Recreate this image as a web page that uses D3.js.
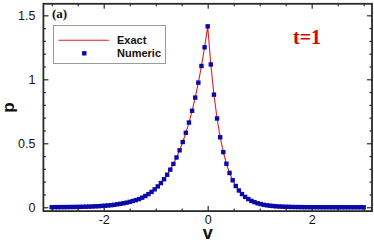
<!DOCTYPE html>
<html><head><meta charset="utf-8">
<script src="https://cdn.jsdelivr.net/npm/d3@7"></script>
<style>body{margin:0;background:#fff}svg{display:block}</style>
</head><body>
<svg id="c" width="374" height="240"></svg>
<script>
// grid of v values
const vValues = [-3.00,-2.94,-2.88,-2.82,-2.76,-2.70,-2.64,-2.58,-2.52,-2.46,-2.40,-2.34,-2.28,-2.22,-2.16,-2.10,-2.04,-1.98,-1.92,-1.86,-1.80,-1.74,-1.68,-1.62,-1.56,-1.50,-1.44,-1.38,-1.32,-1.26,-1.20,-1.14,-1.08,-1.02,-0.96,-0.90,-0.84,-0.78,-0.72,-0.66,-0.60,-0.54,-0.48,-0.42,-0.36,-0.30,-0.24,-0.18,-0.12,-0.06,0.00,
0.06,0.12,0.18,0.24,0.30,0.36,0.42,0.48,0.54,0.60,0.66,0.72,0.78,0.84,0.90,0.96,1.02,1.08,1.14,1.20,1.26,1.32,1.38,1.44,1.50,1.56,1.62,1.68,1.74,1.80,1.86,1.92,1.98,2.04,2.10,2.16,2.22,2.28,2.34,2.40,2.46,2.52,2.58,2.64,2.70,2.76,2.82,2.88,2.94,3.00];
// exact solution p(v)
const pExact = [0.0006,0.0008,0.0009,0.0011,0.0013,0.0015,0.0018,0.0022,0.0026,0.0031,0.0037,0.0044,0.0052,0.0061,0.0072,0.0085,0.010,0.012,0.014,0.016,0.019,0.023,0.027,0.031,0.036,0.042,0.049,0.056,0.064,0.075,0.088,0.103,0.120,0.140,0.163,0.189,0.219,0.254,0.294,0.339,0.389,0.445,0.510,0.582,0.662,0.754,0.857,0.974,1.104,1.250,1.414,
1.116,0.880,0.694,0.547,0.431,0.340,0.268,0.211,0.166,0.131,0.103,0.081,0.064,0.050,0.040,0.031,0.025,0.019,0.015,0.012,0.0095,0.0075,0.0059,0.0047,0.0037,0.0029,0.0023,0.0018,0.0014,0.0011,0.0009,0.0007,0.0006,0.0005,0.0004,0.0003,0.0002,0.0002,0.0002,0.0001,0.0001,0.0001,0.0001,0.0001,0,0,0,0,0,0];
// numeric solution p(v) (coincides with exact)
const pNumeric = [0.0006,0.0008,0.0009,0.0011,0.0013,0.0015,0.0018,0.0022,0.0026,0.0031,0.0037,0.0044,0.0052,0.0061,0.0072,0.0085,0.010,0.012,0.014,0.016,0.019,0.023,0.027,0.031,0.036,0.042,0.049,0.056,0.064,0.075,0.088,0.103,0.120,0.140,0.163,0.189,0.219,0.254,0.294,0.339,0.389,0.445,0.510,0.582,0.662,0.754,0.857,0.974,1.104,1.250,1.414,
1.116,0.880,0.694,0.547,0.431,0.340,0.268,0.211,0.166,0.131,0.103,0.081,0.064,0.050,0.040,0.031,0.025,0.019,0.015,0.012,0.0095,0.0075,0.0059,0.0047,0.0037,0.0029,0.0023,0.0018,0.0014,0.0011,0.0009,0.0007,0.0006,0.0005,0.0004,0.0003,0.0002,0.0002,0.0002,0.0001,0.0001,0.0001,0.0001,0.0001,0,0,0,0,0,0];
const xTicks = [-2, 0, 2];
const xTickLabels = ["-2", "0", "2"];
const xMinor = [-3, -2.5, -1.5, -1, -0.5, 0.5, 1, 1.5, 2.5, 3];
const yTicks = [0, 0.5, 1, 1.5];
const yTickLabels = ["0", "0.5", "1", "1.5"];
const yMinor = [0.1,0.2,0.3,0.4,0.6,0.7,0.8,0.9,1.1,1.2,1.3,1.4];
const seriesNames = ["Exact", "Numeric"];

const svg = d3.select("#c");
const L = 43.4, R = 372, T = 3.8, B = 211.1;
const x = d3.scaleLinear().domain([-3.16, 3.16]).range([L, R]);
const y = d3.scaleLinear().domain([-0.03, 1.59]).range([B, T]);
const font = "'Liberation Sans', Arial, sans-serif";
const axisColor = "#2a2a2a";

function styleAxis(g, fs) {
  g.select(".domain").remove();
  g.selectAll(".tick line").attr("stroke", axisColor).attr("stroke-width", 1.2);
  g.selectAll(".tick text").attr("font-family", font).attr("font-size", fs).attr("fill", "#111");
}
// major ticks
svg.append("g").attr("transform", `translate(0,${B})`)
  .call(d3.axisBottom(x).tickValues(xTicks).tickFormat((d,i)=>xTickLabels[i]).tickSize(-5).tickPadding(4))
  .call(g=>styleAxis(g,12.5));
svg.append("g").attr("transform", `translate(0,${T})`)
  .call(d3.axisTop(x).tickValues(xTicks).tickFormat("").tickSize(-5))
  .call(g=>styleAxis(g,12));
svg.append("g").attr("transform", `translate(${L},0)`)
  .call(d3.axisLeft(y).tickValues(yTicks).tickFormat((d,i)=>yTickLabels[i]).tickSize(-5).tickPadding(8))
  .call(g=>styleAxis(g,12.5));
svg.append("g").attr("transform", `translate(${R},0)`)
  .call(d3.axisRight(y).tickValues(yTicks).tickFormat("").tickSize(-5))
  .call(g=>styleAxis(g,12));
// minor ticks
svg.append("g").attr("transform", `translate(0,${B})`).call(d3.axisBottom(x).tickValues(xMinor).tickFormat("").tickSize(-2.5)).call(g=>styleAxis(g,12));
svg.append("g").attr("transform", `translate(0,${T})`).call(d3.axisTop(x).tickValues(xMinor).tickFormat("").tickSize(-2.5)).call(g=>styleAxis(g,12));
svg.append("g").attr("transform", `translate(${L},0)`).call(d3.axisLeft(y).tickValues(yMinor).tickFormat("").tickSize(-2.5)).call(g=>styleAxis(g,12));
svg.append("g").attr("transform", `translate(${R},0)`).call(d3.axisRight(y).tickValues(yMinor).tickFormat("").tickSize(-2.5)).call(g=>styleAxis(g,12));

// frame
svg.append("rect").attr("x", L).attr("y", T).attr("width", R-L).attr("height", B-T)
  .attr("fill", "none").attr("stroke", axisColor).attr("stroke-width", 1.8);

// exact line
const exactData = vValues.map((v,i)=>[v, pExact[i]]);
const numData = vValues.map((v,i)=>[v, pNumeric[i]]);
svg.append("path").datum(exactData)
  .attr("d", d3.line().x(d=>x(d[0])).y(d=>y(d[1])))
  .attr("fill","none").attr("stroke","#e02020").attr("stroke-width",1.1);
// numeric markers
const ms = 4.4;
svg.append("g").selectAll("rect").data(numData).join("rect")
  .attr("x", d=>x(d[0])-ms/2).attr("y", d=>y(d[1])-ms/2)
  .attr("width", ms).attr("height", ms).attr("fill", "#0a0aa8");

// axis titles
svg.append("text").attr("x", x(0)).attr("y", 238.5).attr("text-anchor","middle")
  .attr("font-family", font).attr("font-weight","bold").attr("font-size",18).attr("fill","#111").text("v");
svg.append("text").attr("transform", `translate(14,${y(0.78)}) rotate(-90)`).attr("text-anchor","middle")
  .attr("font-family", font).attr("font-weight","bold").attr("font-size",17).attr("fill","#111").text("p");

// panel label
svg.append("text").attr("x", 52).attr("y", 18).attr("font-family","'Liberation Serif', 'Times New Roman', serif")
  .attr("font-weight","bold").attr("font-size",13).attr("fill","#111").text("(a)");
// t=1
svg.append("text").attr("x", 293).attr("y", 44.3).attr("font-family","'Liberation Serif', 'Times New Roman', serif")
  .attr("font-weight","bold").attr("font-size",20).attr("fill","#dd0000").text("t=1");

// legend
const lg = svg.append("g");
lg.append("rect").attr("x",53.5).attr("y",25.5).attr("width",112).attr("height",38)
  .attr("fill","#fff").attr("stroke","#9a9a9a").attr("stroke-width",1);
lg.append("line").attr("x1",58.5).attr("x2",109).attr("y1",40.3).attr("y2",40.3)
  .attr("stroke","#e02020").attr("stroke-width",1.1);
lg.append("rect").attr("x",84.3-ms/2).attr("y",53.3-ms/2).attr("width",ms).attr("height",ms).attr("fill","#0a0aa8");
lg.selectAll("text.lt").data(seriesNames).join("text").attr("class","lt")
  .attr("x",117).attr("y",(d,i)=>[44,56.7][i])
  .attr("font-family",font).attr("font-weight","bold").attr("font-size",11).attr("fill","#111").text(d=>d);
</script>
</body></html>
